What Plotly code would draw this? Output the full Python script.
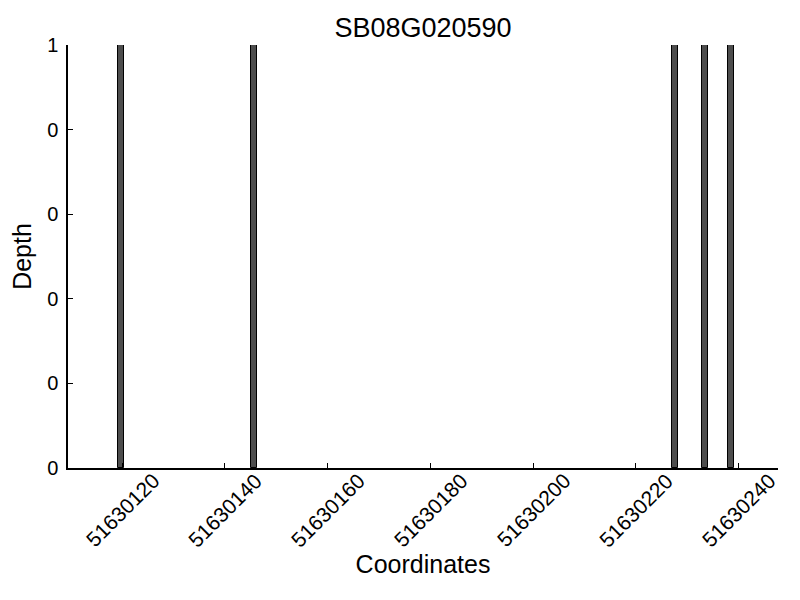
import plotly.graph_objects as go

positions = [51630119.8, 51630145.6, 51630227.6, 51630233.5, 51630238.6]
depths = [1, 1, 1, 1, 1]
x_ticks = [51630120, 51630140, 51630160, 51630180, 51630200, 51630220, 51630240]
y_ticks = [0, 0.2, 0.4, 0.6, 0.8, 1.0]
y_tick_labels = ["0", "0", "0", "0", "0", "1"]

FONT = "Liberation Sans, Arial, sans-serif"

fig = go.Figure()
fig.add_trace(go.Bar(
    x=positions, y=depths, width=1.2,
    marker=dict(color="#4d4d4d", line=dict(color="black", width=1)),
))

for t in x_ticks:
    fig.add_annotation(
        x=t, xref="x", y=-0.1, yref="paper",
        text=str(t), textangle=-45, showarrow=False,
        xanchor="center", yanchor="middle",
        font=dict(family=FONT, size=21, color="black"),
    )

fig.update_layout(
    width=800, height=600,
    plot_bgcolor="white", paper_bgcolor="white",
    margin=dict(l=58, r=30, t=37, b=140),
    showlegend=False,
    bargap=0,
    title=dict(text="SB08G020590", xref="paper", x=0.5, xanchor="center",
               y=0.967, yanchor="middle",
               font=dict(family=FONT, size=27, color="black")),
    font=dict(family=FONT, color="black"),
)
fig.update_xaxes(
    range=[51630109.46, 51630247.7],
    tickvals=x_ticks, showticklabels=False,
    ticks="inside", ticklen=5, tickcolor="black",
    showline=True, linecolor="black", linewidth=1.5,
    showgrid=False, zeroline=False,
    title=dict(text="Coordinates", font=dict(size=25, family=FONT), standoff=87),
)
fig.update_yaxes(
    range=[0, 1],
    tickvals=y_ticks, ticktext=y_tick_labels,
    ticks="inside", ticklen=5, tickcolor="black",
    tickfont=dict(size=20, family=FONT),
    ticklabelstandoff=4,
    showline=True, linecolor="black", linewidth=1.5,
    showgrid=False, zeroline=False,
    title=dict(text="Depth", font=dict(size=25, family=FONT), standoff=10),
)

fig.write_html("out.html")
